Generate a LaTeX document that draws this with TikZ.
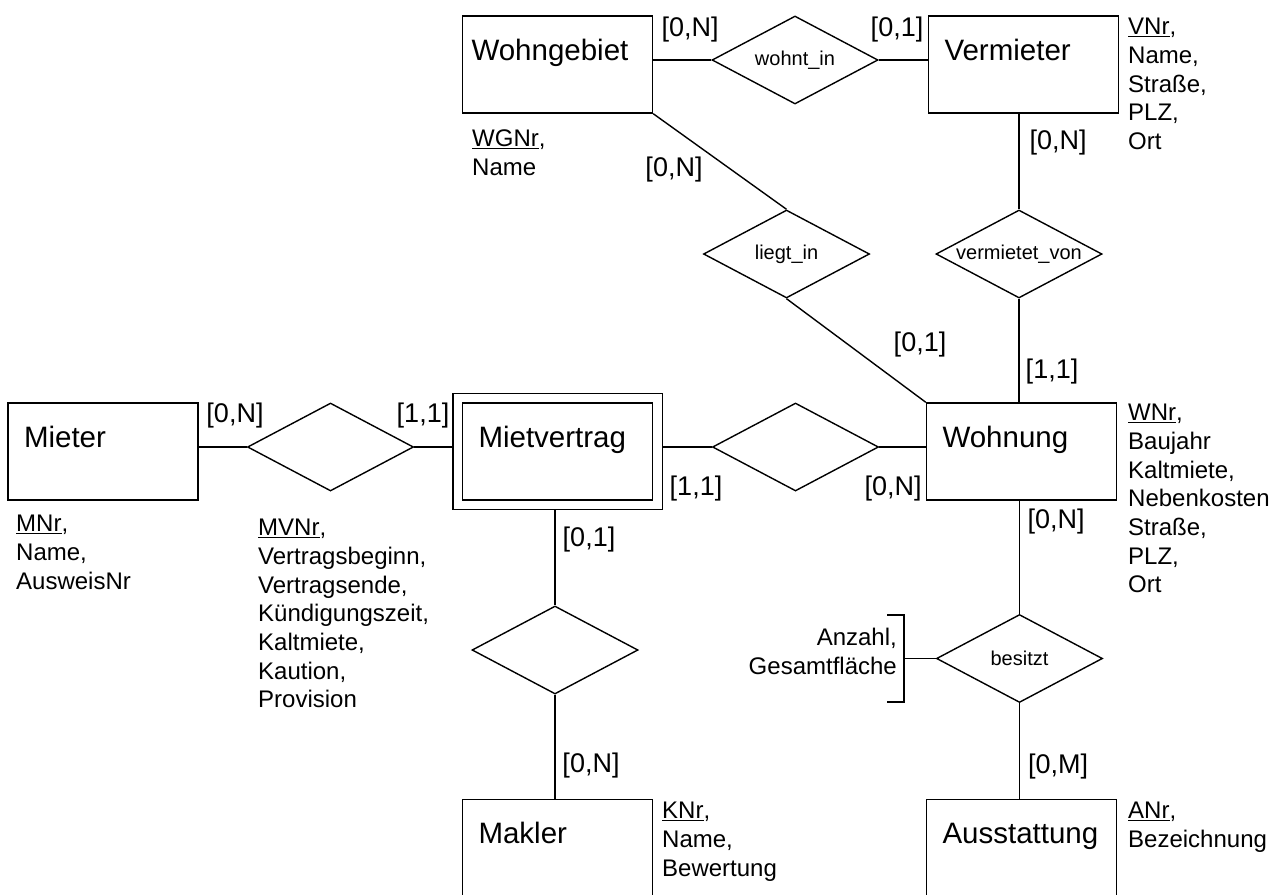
\documentclass[tikz,border=0pt]{standalone}
\usepackage{fontspec}
\setmainfont{Liberation Sans}
\usetikzlibrary{shapes.geometric, fit}

\begin{document}
\begin{tikzpicture}[
    x=1pt, y=-1pt,
    entity/.style={
        rectangle, draw=black, line width=1.4pt,
        minimum width=190pt, text width=158pt, inner xsep=16pt, inner ysep=0pt,
        text height=44pt, text depth=53pt, align=left,
        font=\fontsize{29.5}{34}\selectfont,
    },
    rel/.style={diamond, draw=black, line width=1.4pt, minimum width=166pt, minimum height=88pt, inner sep=0pt},
    reltext/.style={font=\fontsize{20}{24}\selectfont, inner sep=0pt},
    card/.style={font=\fontsize{27}{32}\selectfont, inner sep=0pt},
    attr/.style={align=left, anchor=north west, inner sep=0pt, font=\fontsize{24}{28.7}\selectfont},
    link/.style={draw=black, line width=1.4pt},
]
\useasboundingbox (0,0) rectangle (1279,894);

% ENTITIES
\node[entity, text width=172pt, inner xsep=9pt] (wgeb) at (557.5,64.5) {Wohngebiet};
\node[entity] (verm) at (1023.5,64.5) {Vermieter};
\node[entity] (mieter) at (103,451.5) {Mieter};
\node[entity] (mv) at (557.5,451.5) {Mietvertrag};
\node[fit=(mv), draw=black, line width=1.4pt, inner sep=9pt] (mvo) {};
\node[entity] (wohnung) at (1021.5,451.5) {Wohnung};
\node[entity] (makler) at (557.5,848) {Makler};
\node[entity] (ausst) at (1021.5,848) {Ausstattung};

% RELATIONSHIPS
\node[rel] (wohnt) at (795,60) {};
\node[reltext] (wohntT) at (wohnt) {wohnt\_in};
\node[rel] (liegt) at (786.5,254) {};
\node[reltext] (liegtT) at (liegt) {liegt\_in};
\node[rel] (vermvon) at (1019,254) {};
\node[reltext] (vermvonT) at (vermvon) {vermietet\_von};
\node[rel] (dmiet) at (330.5,447) {};
\node[rel] (dwohn) at (795.5,447) {};
\node[rel] (dmak) at (555,650) {};
\node[rel] (besitzt) at (1019.5,658.5) {};
\node[reltext] (besitztT) at (besitzt) {besitzt};

% CONNECTIONS
\draw[link] (wgeb.east |- wohnt.west) -- (wohnt.west);
\draw[link] (wohnt.east) -- (wohnt.east -| verm.west);
\draw[link] (vermvon.north |- verm.south) -- (vermvon.north);
\draw[link] (vermvon.south) -- (vermvon.south |- wohnung.north);
\draw[link] (wgeb.south east) -- (liegt.north);
\draw[link] (liegt.south) -- (wohnung.north west);
\draw[link] (mieter.east |- dmiet.west) -- (dmiet.west);
\draw[link] (dmiet.east) -- (dmiet.east -| mvo.west);
\draw[link] (mvo.east |- dwohn.west) -- (dwohn.west);
\draw[link] (dwohn.east) -- (dwohn.east -| wohnung.west);
\draw[link] (dmak.north |- mvo.south) -- (dmak.north);
\draw[link] (dmak.south) -- (dmak.south |- makler.north);
\draw[link] (besitzt.north |- wohnung.south) -- (besitzt.north);
\draw[link] (besitzt.south) -- (besitzt.south |- ausst.north);

% relationship attributes of besitzt
\coordinate (brktop) at (904,615);
\coordinate (brkbot) at (904,702);
\draw[link] (besitzt.west) -- (besitzt.west -| brktop);
\draw[link] (brktop) ++(-17,0) -- (brktop) -- (brkbot) -- ++(-17,0);
\node[attr, anchor=north east, align=right] (battr) at (897,628) {Anzahl,\\Gesamtfläche};

% CARDINALITIES
\node[card] (c1) at (690,30) {[0,N]};
\node[card] (c2) at (897,30) {[0,1]};
\node[card] (c3) at (1058,143) {[0,N]};
\node[card] (c4) at (674,170) {[0,N]};
\node[card] (c5) at (920,345) {[0,1]};
\node[card] (c6) at (1052,372) {[1,1]};
\node[card] (c7) at (235,416) {[0,N]};
\node[card] (c8) at (423,416) {[1,1]};
\node[card] (c9) at (696,489) {[1,1]};
\node[card] (c10) at (893,489) {[0,N]};
\node[card] (c11) at (1056,522) {[0,N]};
\node[card] (c12) at (589,540) {[0,1]};
\node[card] (c13) at (591,766) {[0,N]};
\node[card] (c14) at (1058,767) {[0,M]};

% ATTRIBUTES
\node[attr] (awgeb) at (472,130) {\underline{WGNr},\\Name};
\node[attr] (averm) at (1128,18) {\underline{VNr},\\Name,\\Straße,\\PLZ,\\Ort};
\node[attr] (amieter) at (16,515) {\underline{MNr},\\Name,\\AusweisNr};
\node[attr] (amv) at (258,519) {\underline{MVNr},\\Vertragsbeginn,\\Vertragsende,\\Kündigungszeit,\\Kaltmiete,\\Kaution,\\Provision};
\node[attr] (awohnung) at (1128,404) {\underline{WNr},\\Baujahr\\Kaltmiete,\\Nebenkosten\\Straße,\\PLZ,\\Ort};
\node[attr] (amakler) at (662,802) {\underline{KNr},\\Name,\\Bewertung};
\node[attr] (aausst) at (1128,802) {\underline{ANr},\\Bezeichnung};

\end{tikzpicture}
\end{document}
